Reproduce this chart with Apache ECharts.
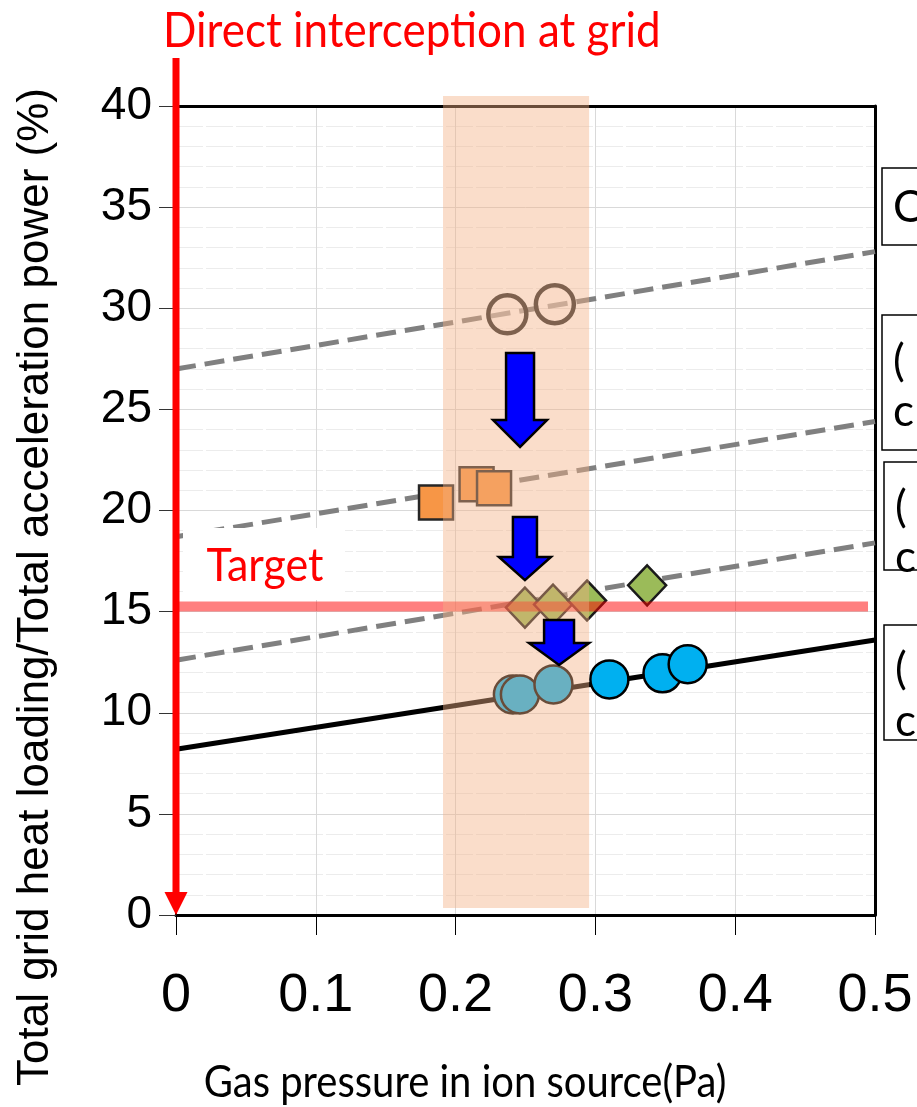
<!DOCTYPE html>
<html><head><meta charset="utf-8">
<script src="https://cdn.jsdelivr.net/npm/echarts/dist/echarts.min.js"></script>
<style>html,body{margin:0;padding:0;background:#fff}#c{width:917px;height:1107px}</style>
</head><body><div id="c"></div>
<script>
// ---- data ----
const xTickLabels = ['0', '0.1', '0.2', '0.3', '0.4', '0.5'];
const yTickLabels = ['0', '5', '10', '15', '20', '25', '30', '35', '40'];
const openCircles = [[0.237, 29.7], [0.271, 30.2]];
const squares = [[0.186, 20.4], [0.215, 21.3], [0.2275, 21.1]];
const diamonds = [[0.2496, 15.2], [0.2697, 15.35], [0.294, 15.55], [0.337, 16.3]];
const blueCircles = [[0.241, 10.9], [0.246, 10.9], [0.27, 11.4], [0.31, 11.65], [0.348, 11.95], [0.366, 12.4]];
const fitA = [[0, 27.0], [0.5, 32.8]];
const fitB = [[0, 18.7], [0.5, 24.4]];
const fitC = [[0, 12.6], [0.5, 18.4]];
const fitD = [[0, 8.2], [0.5, 13.6]];
const targetValue = 15.25;
const targetRange = [0.0014, 0.495];
const bandX = [0.191, 0.2955];
const bandY = [0.35, 40.5];
const interceptTop = 42.37;
// block arrows: [centerX, topY, headTopY, tipY, shaftHalfX, headHalfX]
const blueArrows = [
  [0.2461, 27.79, 24.47, 23.14, 0.0100, 0.0193],
  [0.2496, 19.68, 17.70, 16.56, 0.0086, 0.0186],
  [0.2740, 14.59, 13.45, 12.36, 0.0107, 0.0215]
];

const chart = echarts.init(document.getElementById('c'), null, {renderer: 'canvas'});

function lineSeries(data, color, width, type, z) {
  return {type: 'line', data: data, symbol: 'none', silent: true, z: z || 2,
    lineStyle: {color: color, width: width, type: type}};
}
function scatter(data, symbol, size, color, border, bw) {
  return {type: 'scatter', data: data, symbol: symbol, symbolSize: size, silent: true, z: 3,
    itemStyle: {color: color, borderColor: border, borderWidth: bw, opacity: 1}};
}

const option = {
  animation: false,
  backgroundColor: '#ffffff',
  grid: {left: 176, right: 42, top: 106, bottom: 192, containLabel: false, outerBoundsMode: 'none'},
  xAxis: [{
    type: 'value', min: 0, max: 0.5, interval: 0.1, position: 'bottom',
    axisLine: {show: true, onZero: false, lineStyle: {color: '#000', width: 3}},
    axisTick: {show: true, length: 20, lineStyle: {color: '#000', width: 1}},
    axisLabel: {margin: 54, fontSize: 54, color: '#000', fontFamily: 'Liberation Sans',
      showMinLabel: true, showMaxLabel: true, hideOverlap: false,
      formatter: v => xTickLabels[Math.round(v * 10)]},
    splitLine: {show: true, lineStyle: {color: '#d9d9d9', width: 1}}
  }, {
    type: 'value', min: 0, max: 0.5, interval: 0.1, position: 'top',
    axisLine: {show: true, onZero: false, lineStyle: {color: '#000', width: 3}},
    axisTick: {show: false}, axisLabel: {show: false}, splitLine: {show: false}
  }],
  yAxis: [{
    type: 'value', min: 0, max: 40, interval: 5, position: 'left',
    axisLine: {show: true, onZero: false, lineStyle: {color: '#000', width: 2}},
    axisTick: {show: true, length: 17, lineStyle: {color: '#333', width: 1}},
    axisLabel: {margin: 24, fontSize: 46, color: '#000', fontFamily: 'Liberation Sans',
      formatter: v => yTickLabels[Math.round(v / 5)]},
    splitLine: {show: true, lineStyle: {color: '#d9d9d9', width: 1}},
    minorTick: {show: false, splitNumber: 5},
    minorSplitLine: {show: true, lineStyle: {color: '#ececec', width: 1, type: [27, 3]}}
  }, {
    type: 'value', min: 0, max: 40, interval: 5, position: 'right',
    axisLine: {show: true, onZero: false, lineStyle: {color: '#000', width: 3}},
    axisTick: {show: false}, axisLabel: {show: false}, splitLine: {show: false}
  }],
  series: [
    lineSeries(fitA, '#808080', 5, [20, 9]),
    lineSeries(fitB, '#808080', 5, [20, 9]),
    lineSeries(fitC, '#808080', 5, [20, 9]),
    lineSeries(fitD, '#000000', 5, 'solid'),
    scatter(openCircles, 'circle', 38, 'rgba(255,240,235,0.35)', '#262626', 4.5),
    scatter(squares, 'rect', 34, '#F79646', '#262626', 2.5),
    scatter(diamonds, 'diamond', [38, 40], '#9BBB59', '#1a1a1a', 2.5),
    scatter(blueCircles, 'circle', 38, '#00B0F0', '#000000', 2.5),
    lineSeries([[targetRange[0], targetValue], [targetRange[1], targetValue]], 'rgba(255,0,0,0.5)', 10, 'solid', 4),
    { // highlighted pressure band
      type: 'custom', silent: true, z: 5, clip: false,
      data: [[bandX[0], bandY[0]]],
      renderItem: (params, api) => {
        const a = api.coord([bandX[0], bandY[1]]);
        const b = api.coord([bandX[1], bandY[0]]);
        return {type: 'rect', shape: {x: a[0], y: a[1], width: b[0] - a[0], height: b[1] - a[1]},
          style: {fill: '#F4B183', opacity: 0.43}};
      }
    },
    { // blue block arrows
      type: 'custom', silent: true, z: 6, clip: false,
      data: blueArrows,
      renderItem: (params, api) => {
        const d = blueArrows[params.dataIndex];
        const pts = [
          [d[0] - d[4], d[1]], [d[0] + d[4], d[1]], [d[0] + d[4], d[2]], [d[0] + d[5], d[2]],
          [d[0], d[3]], [d[0] - d[5], d[2]], [d[0] - d[4], d[2]]
        ].map(p => api.coord(p));
        return {type: 'polygon', shape: {points: pts},
          style: {fill: '#0000FF', stroke: '#000', lineWidth: 2.5, lineJoin: 'miter'}};
      }
    },
    { // direct interception arrow
      type: 'custom', silent: true, z: 10, clip: false,
      data: [[0, interceptTop]],
      renderItem: (params, api) => {
        const top = api.coord([0, interceptTop]);
        const bot = api.coord([0, 0]);
        return {type: 'group', children: [
          {type: 'line', shape: {x1: top[0], y1: top[1], x2: bot[0], y2: bot[1] - 18},
            style: {stroke: '#FF0000', lineWidth: 7}},
          {type: 'polygon', shape: {points: [[bot[0] - 11.5, bot[1] - 23], [bot[0] + 11.5, bot[1] - 23], [bot[0], bot[1]]]},
            style: {fill: '#FF0000'}}
        ]};
      }
    }
  ],
  graphic: [
    {type: 'text', x: 163, y: 31, z: 10, scaleY: 1.1, style: {text: 'Direct interception at grid', font: '44px Lato', fill: '#FF0000', textVerticalAlign: 'middle'}},
    {type: 'rect', x: 183, y: 528, z: 4, shape: {width: 162, height: 72}, style: {fill: '#ffffff'}},
    {type: 'text', x: 265, y: 566, z: 5, scaleY: 1.1, style: {text: 'Target', font: '43px Lato', fill: '#FF0000', textAlign: 'center', textVerticalAlign: 'middle'}},
    {type: 'text', x: 36, y: 587, rotation: Math.PI / 2, z: 5, style: {text: 'Total grid heat loading/Total acceleration power (%)', font: '44px "Liberation Sans"', fill: '#000', textAlign: 'center', textVerticalAlign: 'middle'}},
    {type: 'text', x: 465, y: 1083, z: 5, scaleY: 1.1, style: {text: 'Gas pressure in ion source(Pa)', font: '40px Lato', fill: '#000', textAlign: 'center', textVerticalAlign: 'middle'}},
    {type: 'rect', x: 882, y: 168, z: 5, shape: {width: 80, height: 77}, style: {fill: '#fff', stroke: '#000', lineWidth: 1.5}},
    {type: 'text', x: 893, y: 208, z: 6, style: {text: 'C', font: '44px Lato', fill: '#000', textVerticalAlign: 'middle'}},
    {type: 'rect', x: 882, y: 315, z: 5, shape: {width: 80, height: 135}, style: {fill: '#fff', stroke: '#000', lineWidth: 1.5}},
    {type: 'text', x: 893, y: 362, z: 6, style: {text: '(', font: '44px Lato', fill: '#000', textVerticalAlign: 'middle'}},
    {type: 'text', x: 893, y: 412, z: 6, style: {text: 'c', font: '44px Lato', fill: '#000', textVerticalAlign: 'middle'}},
    {type: 'rect', x: 884, y: 462, z: 5, shape: {width: 80, height: 108}, style: {fill: '#fff', stroke: '#000', lineWidth: 1.5}},
    {type: 'text', x: 895, y: 508, z: 6, style: {text: '(', font: '44px Lato', fill: '#000', textVerticalAlign: 'middle'}},
    {type: 'text', x: 895, y: 558, z: 6, style: {text: 'c', font: '44px Lato', fill: '#000', textVerticalAlign: 'middle'}},
    {type: 'rect', x: 884, y: 625, z: 5, shape: {width: 80, height: 115}, style: {fill: '#fff', stroke: '#000', lineWidth: 1.5}},
    {type: 'text', x: 895, y: 670, z: 6, style: {text: '(', font: '44px Lato', fill: '#000', textVerticalAlign: 'middle'}},
    {type: 'text', x: 895, y: 722, z: 6, style: {text: 'c', font: '44px Lato', fill: '#000', textVerticalAlign: 'middle'}}
  ]
};
chart.setOption(option);
</script>
</body></html>
